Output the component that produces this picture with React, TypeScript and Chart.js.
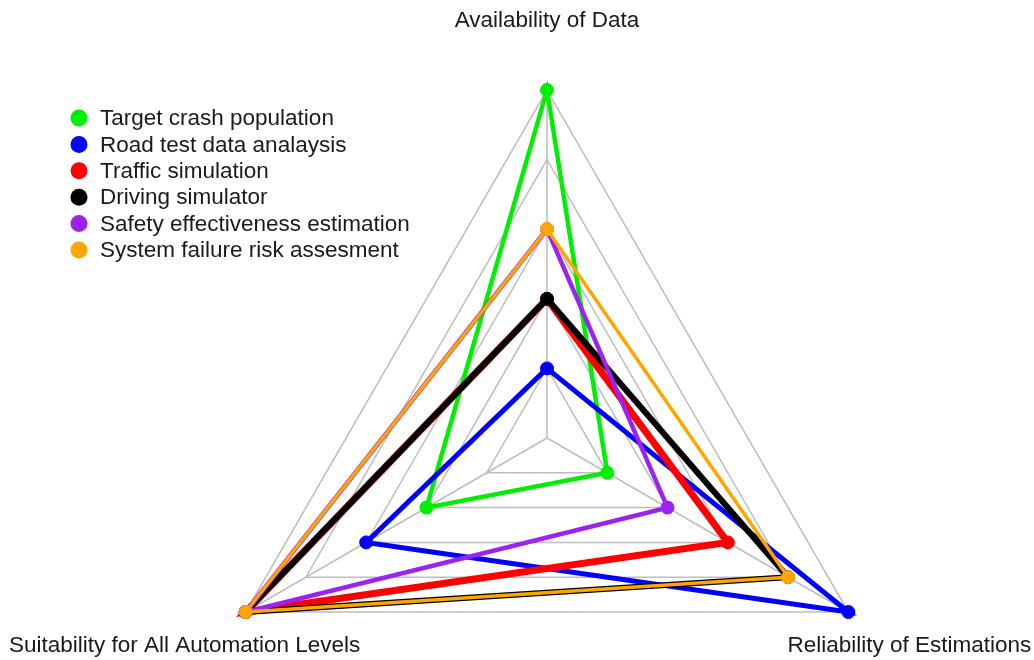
import React, { useEffect, useRef } from "react";
import { Chart, registerables } from "chart.js";

Chart.register(...registerables);

const axisLabels = [
  "Availability of Data",
  "Reliability of Estimations",
  "Suitability for All Automation Levels",
];

const seriesNames = [
  "Target crash population",
  "Road test data analaysis",
  "Traffic simulation",
  "Driving simulator",
  "Safety effectiveness estimation",
  "System failure risk assesment",
];

const targetCrash = [5, 1, 2];
const roadTest = [1, 5, 3];
const trafficSim = [2, 3, 5];
const drivingSim = [2, 4, 5];
const safetyEff = [3, 2, 5];
const failureRisk = [3, 4, 5];

const seriesValues = [targetCrash, roadTest, trafficSim, drivingSim, safetyEff, failureRisk];
const seriesColors = ["#00ee00", "#0000ff", "#ff0000", "#000000", "#9b22f0", "#ffa500"];
const seriesWidths = [4.5, 5, 7, 6, 4.5, 3.5];

const FONT = '22.5px "Liberation Sans", Arial, sans-serif';

const labelPlugin = {
  id: "customLabels",
  afterDraw(chart: any) {
    const ctx = chart.ctx;
    const scale = chart.scales.r;
    ctx.save();
    ctx.font = FONT;
    ctx.fillStyle = "#1a1a1a";
    ctx.textBaseline = "alphabetic";
    ctx.textAlign = "center";
    const outer = scale.getDistanceFromCenterForValue(scale.max);
    axisLabels.forEach((lab, i) => {
      const p = scale.getPointPosition(i, outer);
      if (i === 0) {
        ctx.fillText(lab, p.x, p.y - 63);
      } else {
        const dir = p.x > scale.xCenter ? 1 : -1;
        ctx.fillText(lab, p.x + dir * 61, p.y + 40);
      }
    });
    ctx.textAlign = "left";
    ctx.textBaseline = "middle";
    chart.data.datasets.forEach((ds: any, i: number) => {
      const y = 118 + i * 26.4;
      ctx.beginPath();
      ctx.fillStyle = ds.borderColor;
      ctx.arc(79, y, 8.5, 0, Math.PI * 2);
      ctx.fill();
      ctx.fillStyle = "#1a1a1a";
      ctx.fillText(ds.label, 100, y + 1);
    });
    ctx.restore();
  },
};

export default function App() {
  const ref = useRef<HTMLCanvasElement | null>(null);
  useEffect(() => {
    if (!ref.current) return;
    const n = seriesValues.length;
    const chart = new Chart(ref.current, {
      type: "radar",
      data: {
        labels: axisLabels,
        datasets: seriesValues.map((vals, i) => ({
          label: seriesNames[i],
          data: vals,
          borderColor: seriesColors[i],
          backgroundColor: seriesColors[i],
          pointBackgroundColor: seriesColors[i],
          pointBorderColor: seriesColors[i],
          borderWidth: seriesWidths[i],
          pointRadius: 6.5,
          pointBorderWidth: 1,
          fill: false,
          tension: 0,
          clip: false,
          order: n - i,
        })),
      },
      options: {
        responsive: false,
        animation: false,
        plugins: {
          legend: { display: false },
          tooltip: { enabled: false },
        },
        scales: {
          r: {
            min: 0,
            max: 5,
            ticks: { display: false, stepSize: 1 },
            pointLabels: { display: false },
            grid: { color: "#bdbdbd", lineWidth: 1.5 },
            angleLines: { color: "#bdbdbd", lineWidth: 1.5 },
            afterFit: (s: any) => {
              s.xCenter = 547;
              s.yCenter = 438;
              s.drawingArea = 348;
            },
          },
        },
      },
      plugins: [labelPlugin],
    });
    return () => chart.destroy();
  }, []);
  return (
    <div style={{ position: "absolute", left: 0, top: 0, width: 1034, height: 660, background: "#fff" }}>
      <canvas ref={ref} width={1034} height={660} style={{ display: "block" }} />
    </div>
  );
}
